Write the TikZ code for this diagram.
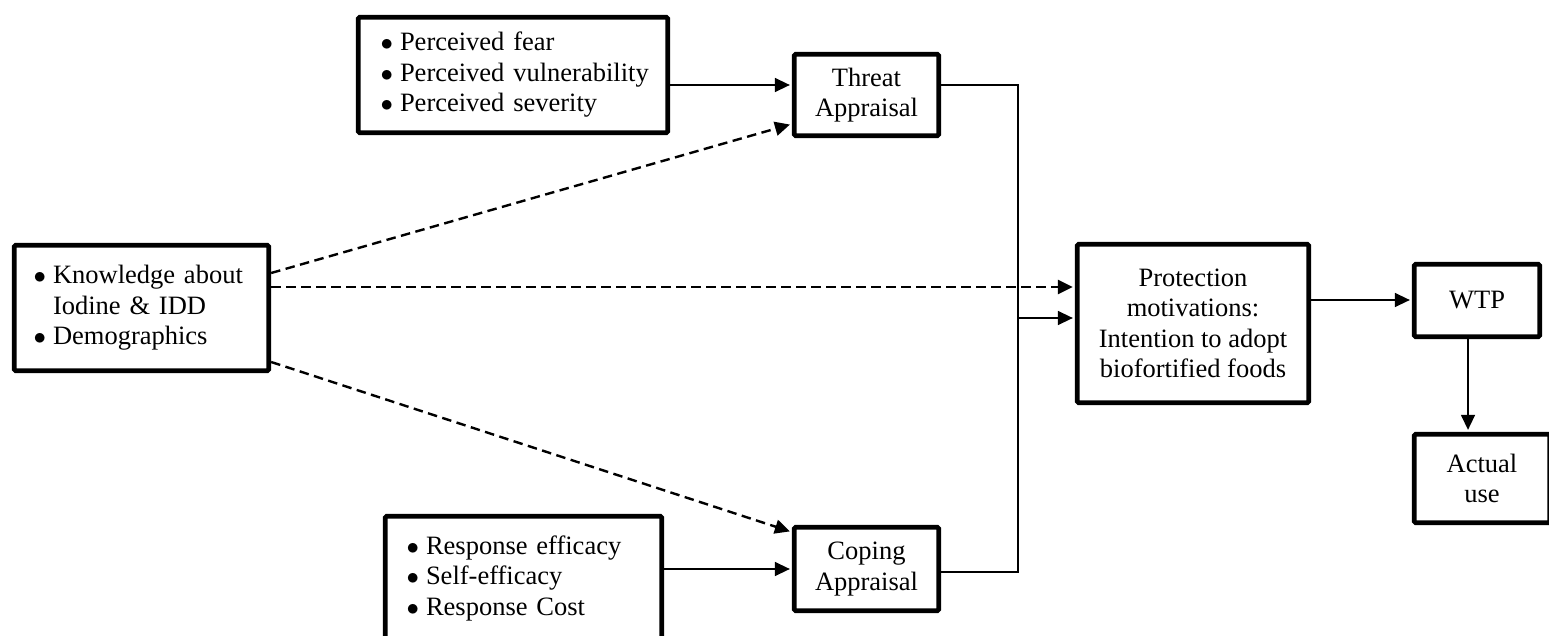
\documentclass[tikz,border=0pt]{standalone}
\usepackage{fontspec}
\setmainfont{Liberation Serif}
\usetikzlibrary{arrows.meta}
\newcommand\bul{\makebox[18pt][l]{\hspace*{-1.5pt}$\bullet$}}
\newcommand\bitem[1]{\mbox{\bul#1}}
\begin{document}
\begin{tikzpicture}[x=1pt,y=-1pt,
  every node/.style={font=\fontsize{26.5}{30.5}\selectfont},
  box/.style={draw, line width=4.8pt, rounded corners=1.5pt, inner sep=0pt, align=center},
  listbox/.style={box, align=left},
  arr/.style={line width=1.5pt, -{Triangle[length=15pt,width=14pt]}, shorten >=2pt},
  darr/.style={arr, line width=2.4pt, dash pattern=on 9.5pt off 5.5pt},
  link/.style={line width=1.5pt}]
\useasboundingbox (0,0) rectangle (1549,636);
% helper levels
\coordinate (h85) at (0,85);
\coordinate (h124) at (0,124);
\coordinate (h273) at (0,273);
\coordinate (h287) at (0,287);
\coordinate (h300) at (0,300);
\coordinate (h318) at (0,318);
\coordinate (h362) at (0,362);
\coordinate (h532) at (0,532);
\coordinate (h569) at (0,569);
\coordinate (h572) at (0,572);
\coordinate (bus) at (1018,0);
\coordinate (v1468) at (1468,0);
% nodes
\node[listbox, text width=262pt, inner xsep=23.75pt, minimum height=115.5pt] (perc) at (513,75)
  {\bitem{Perceived fear}\\\bitem{Perceived vulnerability}\\\bitem{Perceived severity}};
\node[box, minimum width=144.5pt, minimum height=81.5pt] (threat) at (866.5,95) {Threat\\Appraisal};
\node[listbox, text width=213pt, inner xsep=20.75pt, minimum height=125.5pt] (know) at (141.5,308)
  {\bitem{Knowledge about}\\\mbox{\hspace*{18pt}Iodine \& IDD}\\\bitem{Demographics}};
\node[box, minimum width=231.5pt, minimum height=158.5pt] (prot) at (1193,323.5)
  {Protection\\motivations:\\Intention to adopt\\biofortified foods};
\node[box, minimum width=125.5pt, minimum height=72.5pt] (wtp) at (1477,300.5) {WTP};
\node[box, minimum width=135.5pt, minimum height=88.5pt] (act) at (1482,478.5) {Actual\\use};
\node[box, minimum width=144.5pt, minimum height=83.5pt] (cope) at (866.5,569) {Coping\\Appraisal};
\node[listbox, text width=231pt, inner xsep=22.75pt, minimum height=123.5pt] (resp) at (523.5,578)
  {\bitem{Response efficacy}\\\bitem{Self-efficacy}\\\bitem{Response Cost}};
% connectors
\draw[arr] (perc.east |- h85) -- (threat.west |- h85);
\draw[darr] (know.east |- h273) -- (threat.west |- h124);
\draw[darr] (know.east |- h287) -- (prot.west |- h287);
\draw[darr] (know.east |- h362) -- (cope.west |- h532);
\draw[arr] (resp.east |- h569) -- (cope.west |- h569);
\draw[link] (threat.east |- h85) -| (bus |- h572) -- (cope.east |- h572);
\draw[arr] (bus |- h318) -- (prot.west |- h318);
\draw[arr] (prot.east |- h300) -- (wtp.west |- h300);
\draw[arr] (wtp.south -| v1468) -- (act.north -| v1468);
\end{tikzpicture}
\end{document}
